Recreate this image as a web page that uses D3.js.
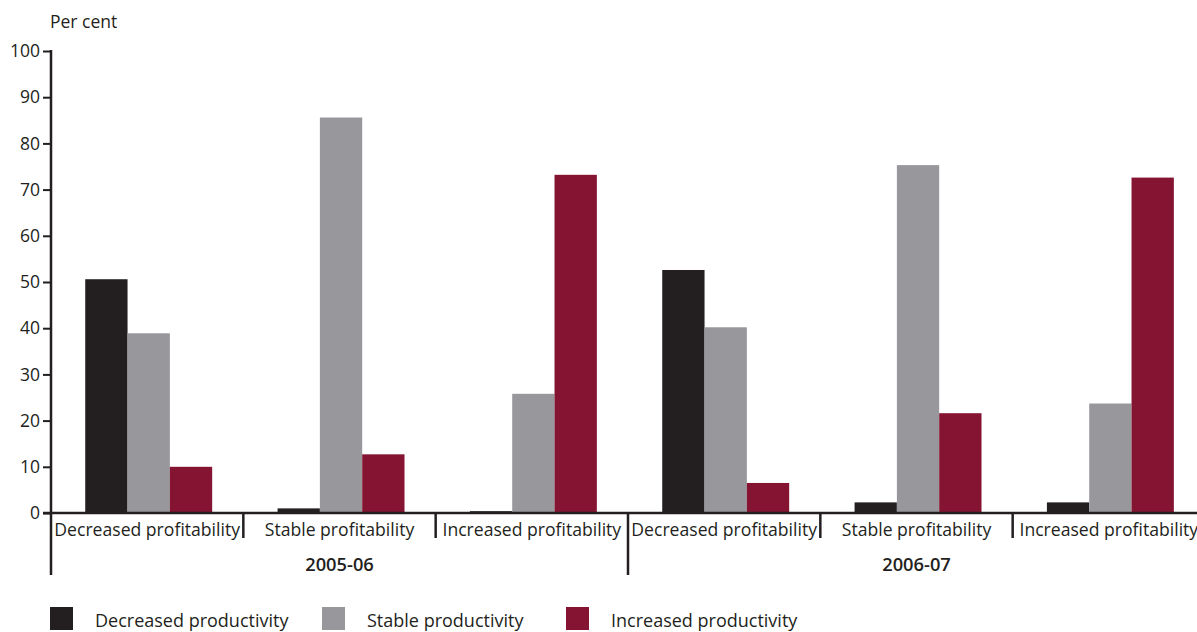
<!DOCTYPE html>
<html>
<head>
<meta charset="utf-8">
<script src="https://cdn.jsdelivr.net/npm/d3@7"></script>
<style>
  html, body { margin: 0; padding: 0; background: #fff; }
  svg { display: block; }
  text { font-family: "Open Sans", "DejaVu Sans", sans-serif; fill: #231f20; }
</style>
</head>
<body>
<svg id="chart" width="1197" height="632"></svg>
<script>
// Survey results: share of firms by profitability and productivity change
const years = ["2005-06", "2006-07"];
const profitability = ["Decreased profitability", "Stable profitability", "Increased profitability"];
const seriesNames = ["Decreased productivity", "Stable productivity", "Increased productivity"];
const seriesColors = ["#231f20", "#98979c", "#841432"];

// one value per year × profitability category, in order
const decreasedProductivity = [50.6, 1.0, 0.4, 52.6, 2.3, 2.3];
const stableProductivity    = [38.9, 85.6, 25.8, 40.2, 75.3, 23.7];
const increasedProductivity = [10.0, 12.7, 73.2, 6.5, 21.6, 72.6];

const yTicks = [0, 10, 20, 30, 40, 50, 60, 70, 80, 90, 100];
const yLabel = "Per cent";

const seriesValues = [decreasedProductivity, stableProductivity, increasedProductivity];
const categories = [];
years.forEach(yr => profitability.forEach(p => categories.push({ key: yr + "|" + p, year: yr, label: p })));

const svg = d3.select("#chart");
const plotLeft = 51, plotRight = 1205, plotTop = 51, plotBottom = 513;
const ink = "#231f20";

const x = d3.scaleBand().domain(categories.map(c => c.key)).range([plotLeft, plotRight]).padding(0);
const bw = x.bandwidth();
const xs = d3.scaleBand().domain(seriesNames).range([bw * 0.178, bw * 0.838]).padding(0);
const y = d3.scaleLinear().domain([0, 100]).range([plotBottom, plotTop]);

// bars
const groups = svg.append("g").selectAll("g")
  .data(categories)
  .join("g")
  .attr("transform", d => `translate(${x(d.key)},0)`);

groups.selectAll("rect")
  .data((d, i) => seriesNames.map((s, j) => ({ s, j, v: seriesValues[j][i] })))
  .join("rect")
  .attr("x", d => xs(d.s))
  .attr("width", xs.bandwidth())
  .attr("y", d => y(d.v))
  .attr("height", d => y(0) - y(d.v))
  .attr("fill", d => seriesColors[d.j]);

// y axis
const yAxis = svg.append("g")
  .attr("transform", `translate(${plotLeft},0)`)
  .call(d3.axisLeft(y).tickValues(yTicks).tickSize(8).tickSizeOuter(0).tickPadding(3));
yAxis.select(".domain").remove();
yAxis.selectAll(".tick line").attr("stroke", ink).attr("stroke-width", 2);
yAxis.selectAll(".tick text")
  .attr("font-size", 17.5)
  .attr("fill", ink)
  .style("font-family", "'Open Sans', sans-serif");

svg.append("line")
  .attr("x1", plotLeft).attr("x2", plotLeft)
  .attr("y1", plotTop - 1).attr("y2", 575)
  .attr("stroke", ink).attr("stroke-width", 2.5);

// x baseline
svg.append("line")
  .attr("x1", plotLeft - 8).attr("x2", plotRight)
  .attr("y1", y(0)).attr("y2", y(0))
  .attr("stroke", ink).attr("stroke-width", 2.5);

// category dividers: short between profitability groups, long between years
categories.forEach((c, i) => {
  if (i === 0) return;
  const xv = x(c.key);
  const isYearBreak = i % profitability.length === 0;
  svg.append("line")
    .attr("x1", xv).attr("x2", xv)
    .attr("y1", y(0)).attr("y2", isYearBreak ? 575 : 538)
    .attr("stroke", ink).attr("stroke-width", 2.5);
});

// category labels
svg.append("g").selectAll("text")
  .data(categories)
  .join("text")
  .attr("x", d => x(d.key) + bw / 2)
  .attr("y", 536)
  .attr("text-anchor", "middle")
  .attr("font-size", 17.6)
  .text(d => d.label);

// year labels
svg.append("g").selectAll("text")
  .data(years)
  .join("text")
  .attr("x", (d, i) => {
    const first = x(categories[i * profitability.length].key);
    const last = x(categories[(i + 1) * profitability.length - 1].key) + bw;
    return (first + last) / 2;
  })
  .attr("y", 571)
  .attr("text-anchor", "middle")
  .attr("font-size", 18.3)
  .attr("font-weight", 600)
  .text(d => d);

// unit label
svg.append("text")
  .attr("x", 50).attr("y", 28)
  .attr("font-size", 17.5)
  .text(yLabel);

// legend
const legendX = [50, 322, 566];
const legend = svg.append("g").selectAll("g")
  .data(seriesNames)
  .join("g")
  .attr("transform", (d, i) => `translate(${legendX[i]},607)`);
legend.append("rect")
  .attr("width", 23).attr("height", 23)
  .attr("fill", (d, i) => seriesColors[i]);
legend.append("text")
  .attr("x", 45).attr("y", 20)
  .attr("font-size", 18)
  .text(d => d);
</script>
</body>
</html>
